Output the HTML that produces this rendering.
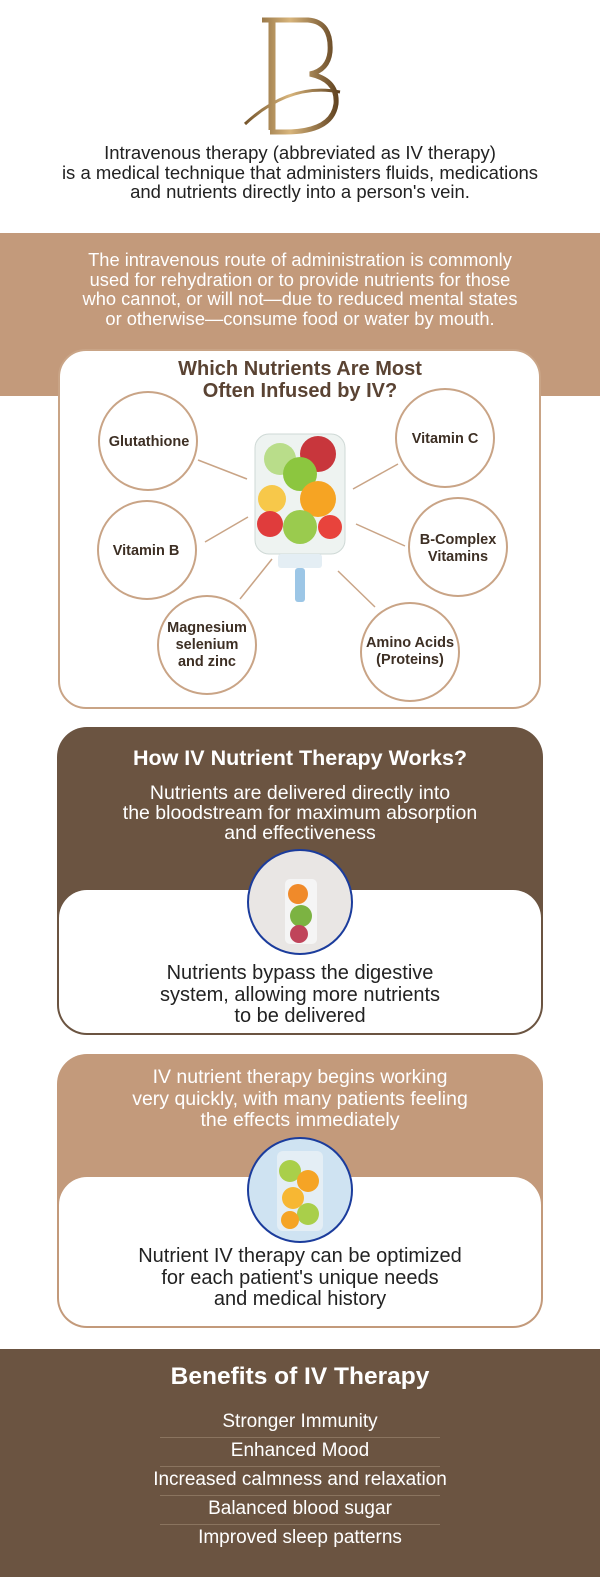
<!DOCTYPE html>
<html><head><meta charset="utf-8"><style>
*{margin:0;padding:0;box-sizing:border-box}
body{width:600px;height:1577px;position:relative;background:#fff;font-family:"Liberation Sans",sans-serif;overflow:hidden}
.a{position:absolute}
.c{text-align:center;width:100%;left:0}
</style></head><body>
<svg class="a" style="left:240px;top:12px" width="120" height="125" viewBox="0 0 120 125">
<defs><linearGradient id="g" gradientUnits="userSpaceOnUse" x1="0" y1="0" x2="100" y2="0"><stop offset="0" stop-color="#6a4a22"/><stop offset=".5" stop-color="#d8b57c"/><stop offset="1" stop-color="#5b3d1c"/></linearGradient></defs>
<path d="M22 8 H68 Q92 10 90 40 Q88 58 70 62 Q98 68 96 92 Q92 120 45 120 H30" fill="none" stroke="url(#g)" stroke-width="5"/>
<path d="M32 8 V118" stroke="url(#g)" stroke-width="7"/>
<path d="M5 112 Q50 70 100 80" fill="none" stroke="url(#g)" stroke-width="3"/>
</svg>
<div class="a c" style="top:143px;color:#222;font-size:18.5px;line-height:19.5px">Intravenous therapy (abbreviated as IV therapy)<br>is a medical technique that administers fluids, medications<br>and nutrients directly into a person's vein.</div>
<div class="a" style="left:0;top:233px;width:600px;height:163px;background:#c39a7b"></div>
<div class="a c" style="top:250px;color:#fff;font-size:18.3px;line-height:19.5px">The intravenous route of administration is commonly<br>used for rehydration or to provide nutrients for those<br>who cannot, or will not—due to reduced mental states<br>or otherwise—consume food or water by mouth.</div>
<div class="a" style="left:58px;top:349px;width:483px;height:360px;background:#fff;border:2px solid #c9a486;border-radius:28px"></div>
<div class="a c" style="top:358px;color:#5a4333;font-weight:bold;font-size:20px;line-height:22px">Which Nutrients Are Most<br>Often Infused by IV?</div>
<svg class="a" style="left:0;top:349px" width="600" height="360">
<g stroke="#c9a486" stroke-width="1.5">
<line x1="198" y1="111" x2="247" y2="130"/><line x1="398" y1="115" x2="353" y2="140"/>
<line x1="205" y1="193" x2="248" y2="168"/><line x1="405" y1="197" x2="356" y2="175"/>
<line x1="240" y1="250" x2="272" y2="210"/><line x1="375" y1="258" x2="338" y2="222"/>
</g>
<g fill="#fff" stroke="#c9a486" stroke-width="2">
<circle cx="148" cy="92" r="49"/><circle cx="445" cy="89" r="49"/>
<circle cx="147" cy="201" r="49"/><circle cx="458" cy="198" r="49"/>
<circle cx="207" cy="296" r="49"/><circle cx="410" cy="303" r="49"/>
</g>
<rect x="255" y="85" width="90" height="120" rx="14" fill="#eef3f1" stroke="#cfd9d6"/>
<circle cx="280" cy="110" r="16" fill="#b9dd8a"/><circle cx="318" cy="105" r="18" fill="#c8363c"/>
<circle cx="300" cy="125" r="17" fill="#8cc63f"/><circle cx="272" cy="150" r="14" fill="#f7c84a"/>
<circle cx="318" cy="150" r="18" fill="#f6a423"/><circle cx="300" cy="178" r="17" fill="#9acb4e"/>
<circle cx="270" cy="175" r="13" fill="#e03c3c"/><circle cx="330" cy="178" r="12" fill="#e8433c"/>
<rect x="278" y="205" width="44" height="14" rx="3" fill="#e4eef4"/>
<rect x="295" y="219" width="10" height="34" rx="3" fill="#9cc6e6"/>
<g fill="#3d2f24" font-family="Liberation Sans, sans-serif" font-size="14.5" font-weight="bold" text-anchor="middle">
<text x="149" y="97">Glutathione</text><text x="445" y="94">Vitamin C</text>
<text x="146" y="206">Vitamin B</text>
<text x="458" y="195">B-Complex</text><text x="458" y="212">Vitamins</text>
<text x="207" y="283">Magnesium</text><text x="207" y="300">selenium</text><text x="207" y="317">and zinc</text>
<text x="410" y="298">Amino Acids</text><text x="410" y="315">(Proteins)</text>
</g></svg>
<div class="a" style="left:57px;top:727px;width:486px;height:308px;background:#6b5441;border-radius:30px"></div>
<div class="a" style="left:59px;top:890px;width:482px;height:143px;background:#fff;border-radius:28px"></div>
<div class="a c" style="top:746px;color:#fff;font-weight:bold;font-size:21.5px">How IV Nutrient Therapy Works?</div>
<div class="a c" style="top:783px;color:#fff;font-size:19.5px;line-height:20px">Nutrients are delivered directly into<br>the bloodstream for maximum absorption<br>and effectiveness</div>
<svg class="a" style="left:245px;top:849px" width="110" height="110"><circle cx="55" cy="53" r="52" fill="#e9e6e4" stroke="#1b3c9c" stroke-width="2"/><rect x="40" y="30" width="32" height="65" rx="5" fill="#f5f5f5"/><circle cx="53" cy="45" r="10" fill="#f08a2a"/><circle cx="56" cy="67" r="11" fill="#7cb342"/><circle cx="54" cy="85" r="9" fill="#c0445a"/></svg>
<div class="a c" style="top:963px;color:#222;font-size:20px;line-height:21.5px">Nutrients bypass the digestive<br>system, allowing more nutrients<br>to be delivered</div>
<div class="a" style="left:57px;top:1054px;width:486px;height:274px;background:#c39a7b;border-radius:30px"></div>
<div class="a" style="left:59px;top:1177px;width:482px;height:149px;background:#fff;border-radius:28px"></div>
<div class="a c" style="top:1067px;color:#fff;font-size:19.5px;line-height:21.5px">IV nutrient therapy begins working<br>very quickly, with many patients feeling<br>the effects immediately</div>
<svg class="a" style="left:245px;top:1136px" width="110" height="110"><circle cx="55" cy="54" r="52" fill="#cfe3f2" stroke="#1b3c9c" stroke-width="2"/><rect x="32" y="15" width="46" height="80" rx="6" fill="#e4eef5"/><circle cx="45" cy="35" r="11" fill="#a9cf4a"/><circle cx="63" cy="45" r="11" fill="#f5a425"/><circle cx="48" cy="62" r="11" fill="#f7b733"/><circle cx="63" cy="78" r="11" fill="#a9cf4a"/><circle cx="45" cy="84" r="9" fill="#f5a425"/></svg>
<div class="a c" style="top:1246px;color:#222;font-size:20px;line-height:21.5px">Nutrient IV therapy can be optimized<br>for each patient's unique needs<br>and medical history</div>
<div class="a" style="left:0;top:1349px;width:600px;height:228px;background:#6b5441"></div>
<div class="a c" style="top:1363px;color:#fff;font-weight:bold;font-size:24.5px">Benefits of IV Therapy</div>
<div class="a c" style="top:1407px;color:#fff;font-size:19px;line-height:29px">Stronger Immunity<br>Enhanced Mood<br>Increased calmness and relaxation<br>Balanced blood sugar<br>Improved sleep patterns</div>
<div class="a" style="left:160px;top:1437px;width:280px;height:1px;background:#8a745f"></div>
<div class="a" style="left:160px;top:1466px;width:280px;height:1px;background:#8a745f"></div>
<div class="a" style="left:160px;top:1495px;width:280px;height:1px;background:#8a745f"></div>
<div class="a" style="left:160px;top:1524px;width:280px;height:1px;background:#8a745f"></div>
</body></html>
